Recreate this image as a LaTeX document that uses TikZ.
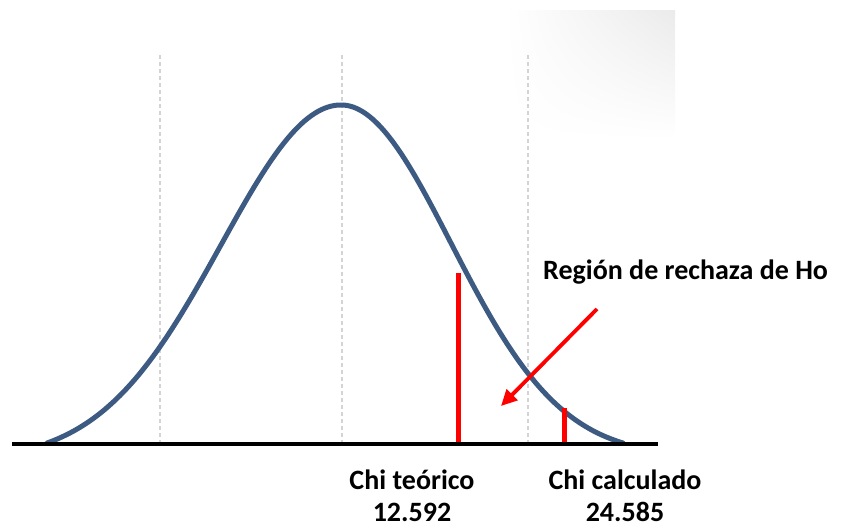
\documentclass[tikz,border=0pt]{standalone}
\usepackage{fontspec}
\setmainfont{Carlito}
\usetikzlibrary{arrows.meta,shadings}
\definecolor{curveblue}{HTML}{3C5A82}
\definecolor{gridgray}{HTML}{D4D4D4}
\definecolor{markred}{HTML}{FF0000}
\tikzset{
  lbl/.style={font=\fontsize{28}{33}\selectfont\bfseries, inner sep=0pt},
  gridline/.style={gridgray, line width=1.6pt, dash pattern=on 4pt off 3pt},
  redmark/.style={markred, line width=5.2pt},
  redarrow/.style={markred, line width=3.8pt, -{Triangle[length=16pt,width=15pt]}},
  bell/.style={curveblue, line width=5pt, line cap=round},
  axis/.style={black, line width=4pt}
}
\begin{document}
\begin{tikzpicture}[x=1pt,y=-1pt]
\useasboundingbox (0,0) rectangle (842,525);
% faint shadow artifact top right
\shade[upper left=white, upper right=black!8, lower left=white, lower right=white] (505,10) rectangle (675,140);
% grid lines
\coordinate (g1t) at (160,55); \coordinate (g1b) at (160,442);
\coordinate (g2t) at (342,55); \coordinate (g2b) at (342,442);
\coordinate (g3t) at (528,55); \coordinate (g3b) at (528,442);
\draw[gridline] (g1t) -- (g1b);
\draw[gridline] (g2t) -- (g2b);
\draw[gridline] (g3t) -- (g3b);
% bell curve (two half-gaussians)
\draw[bell] plot[domain=47:341, samples=90, smooth]
  (\x, {443 - 338*(exp(-((\x-341)/100)^2/2.88) - 0.0498)/0.9502})
  -- plot[domain=341:623, samples=90, smooth]
  (\x, {443 - 338*(exp(-((\x-341)/100)^2/2.42) - 0.0374)/0.9626});
% axis
\coordinate (axL) at (12,443.7);
\coordinate (axR) at (658,443.7);
\draw[axis] (axL) -- (axR);
% red marks
\coordinate (r1b) at (458.3,442);
\coordinate (r1t) at (458.3,273);
\coordinate (r2b) at (564.5,442);
\coordinate (r2t) at (564.5,408);
\draw[redmark] (r1b) -- (r1t);
\draw[redmark] (r2b) -- (r2t);
% arrow
\coordinate (as) at (597,309);
\coordinate (ae) at (501,406);
\draw[redarrow] (as) -- (ae);
% labels
\node[lbl, anchor=base west] (region) at (543,279.5) {Región de rechaza de Ho};
\node[lbl, anchor=base] (chit) at (412,489.5) {Chi teórico};
\node[lbl, anchor=base] (chic) at (625,489.5) {Chi calculado};
\node[lbl, anchor=base] (v1) at (412,521.5) {12.592};
\node[lbl, anchor=base] (v2) at (625,521.5) {24.585};
\end{tikzpicture}
\end{document}
